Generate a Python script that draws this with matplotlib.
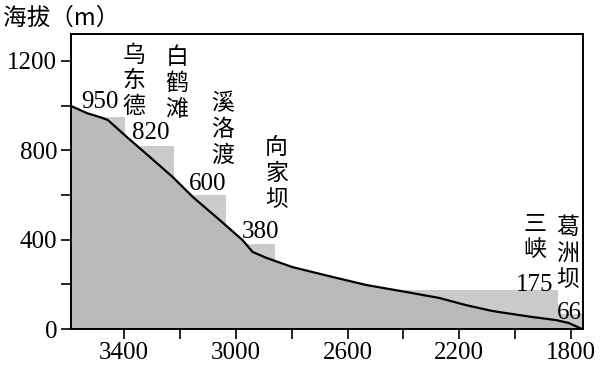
import numpy as np
import matplotlib
matplotlib.use('Agg')
import matplotlib.pyplot as plt
from matplotlib.ticker import MultipleLocator

# river profile (distance from mouth, km) and elevation (m)
dist = [3590, 3533, 3486, 3458, 3390, 3308, 3226, 3154, 3129, 3058, 2976, 2940,
        2890, 2797, 2654, 2533, 2369, 2272, 2176, 2083, 2058, 1940, 1854, 1808, 1760]
elev = [998, 966, 948, 935, 859, 770, 680, 591, 564, 488, 398, 345,
        318, 277, 233, 197, 161, 139, 107, 81, 76, 54, 40, 27, 0]

# dams: name, position, normal water level
dam_names = ['乌\n东\n德', '白\n鹤\n滩', '溪\n洛\n渡', '向\n家\n坝', '三\n峡', '葛\n洲\n坝']
dam_x = [3397, 3222, 3036, 2858, 1847, 1758]
dam_level = [950, 820, 600, 380, 175, 66]

x_ticks = [3400, 3000, 2600, 2200, 1800]
y_ticks = [0, 400, 800, 1200]

# label positions (data coords)
name_pos = [(3365, 1110), (3211, 1098), (3047, 893), (2854, 696), (1929, 411), (1811, 338)]
level_pos = [(3486, 1018), (3304, 875), (3101, 647), (2911, 433), (1929, 196), (1804, 71)]

cjk = ['Noto Sans CJK SC', 'DejaVu Sans']
serif = 'Liberation Serif'

fig = plt.figure(figsize=(6.05, 3.65), dpi=100)
ax = fig.add_axes([0.1174, 0.0986, 0.8462, 0.8082])

x0, x1 = 3590, 1757
# reservoirs: from dam upstream at water level
for x, lv in zip(dam_x, dam_level):
    ax.bar(x, lv, width=x0 - x, align='edge', color='#cbcbcb', edgecolor='none', zorder=1)

ax.fill_between(dist, elev, 0, color='#b9b9b9', linewidth=0, zorder=2)
ax.plot(dist, elev, color='black', lw=1.6, zorder=3)

for name, (tx, ty) in zip(dam_names, name_pos):
    ax.text(tx, ty, name, ha='center', va='center', fontsize=16.5, family=cjk,
            linespacing=1.15, zorder=4)
for lv, (tx, ty) in zip(dam_level, level_pos):
    ax.text(tx, ty, str(lv), ha='center', va='center', fontsize=18, family=serif, zorder=4)

ax.set_xlim(x0, x1)
ax.set_ylim(0, 1320)
ax.set_xticks(x_ticks)
ax.xaxis.set_minor_locator(MultipleLocator(200))
ax.set_yticks(y_ticks)
ax.yaxis.set_minor_locator(MultipleLocator(200))
ax.tick_params(which='both', direction='out', length=7, width=1.2, labelsize=18)
ax.tick_params(axis='y', pad=3)
ax.tick_params(axis='x', pad=2)
for lab in ax.get_xticklabels() + ax.get_yticklabels():
    lab.set_family(serif)
for sp in ax.spines.values():
    sp.set_linewidth(1.4)

fig.text(0.005, 1 - 18 / 365, '海拔（m）', ha='left', va='center', fontsize=17, family=cjk)

fig.savefig('out.png', dpi=100)
